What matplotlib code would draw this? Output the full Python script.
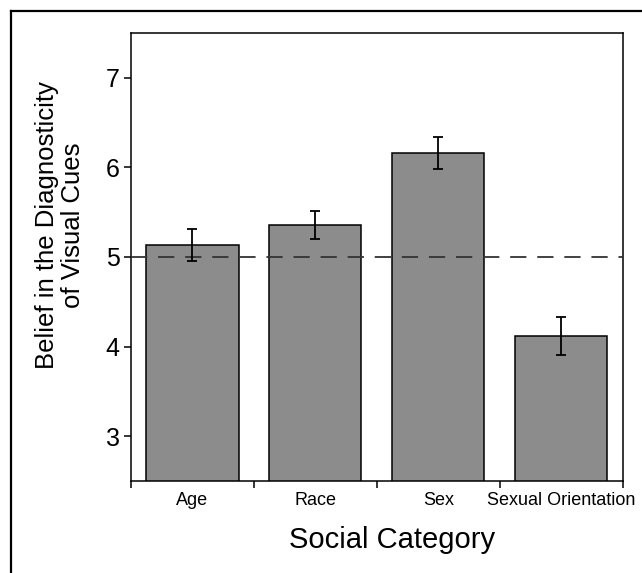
import matplotlib.pyplot as plt
from matplotlib.lines import Line2D

plt.rcParams['font.family'] = ['Liberation Sans', 'DejaVu Sans']

categories = ['Age', 'Race', 'Sex', 'Sexual Orientation']
means = [5.13, 5.36, 6.16, 4.12]
errors = [0.18, 0.155, 0.18, 0.21]
midpoint = 5

fig = plt.figure(figsize=(6.42, 5.73), dpi=100)
ax = fig.add_axes([0.204, 0.1606, 0.766, 0.7818])

x = [i + 0.5 for i in range(len(categories))]
ax.bar(x, means, width=0.75, color='#8c8c8c', edgecolor='black', linewidth=1.1, zorder=2)
ax.errorbar(x, means, yerr=errors, fmt='none', ecolor='black', elinewidth=1.3,
            capsize=3.5, capthick=1.3, zorder=4)
ax.axhline(midpoint, color='#333333', linestyle=(0, (9, 6)), linewidth=1.3, zorder=3)

ax.set_xlim(0, 4)
ax.set_ylim(2.5, 7.5)
ax.set_yticks([3, 4, 5, 6, 7])
ax.set_xticks(range(5))
ax.set_xticklabels([])
ax.set_xticks(x, minor=True)
ax.set_xticklabels(categories, minor=True, fontsize=13)
ax.tick_params(axis='x', which='minor', length=0, pad=8)
ax.tick_params(axis='x', which='major', length=5, width=1.1, direction='out')
ax.tick_params(axis='y', length=5, width=1.1, direction='out', labelsize=18, pad=3)
for s in ax.spines.values():
    s.set_linewidth(1.1)

fig.text(60 / 642, 1 - 225 / 573, 'Belief in the Diagnosticity\nof Visual Cues',
         rotation=90, ha='center', va='center', multialignment='center',
         fontsize=18.5, linespacing=1.1)
fig.text(392 / 642, 1 - 540 / 573, 'Social Category', ha='center', va='center', fontsize=21)

# frame along the top and left edges
fig.add_artist(Line2D([11 / 642, 11 / 642], [0, 1 - 11 / 573], color='black', linewidth=1.6))
fig.add_artist(Line2D([11 / 642, 1], [1 - 11 / 573, 1 - 11 / 573], color='black', linewidth=1.6))

fig.savefig('out.png', dpi=100)
